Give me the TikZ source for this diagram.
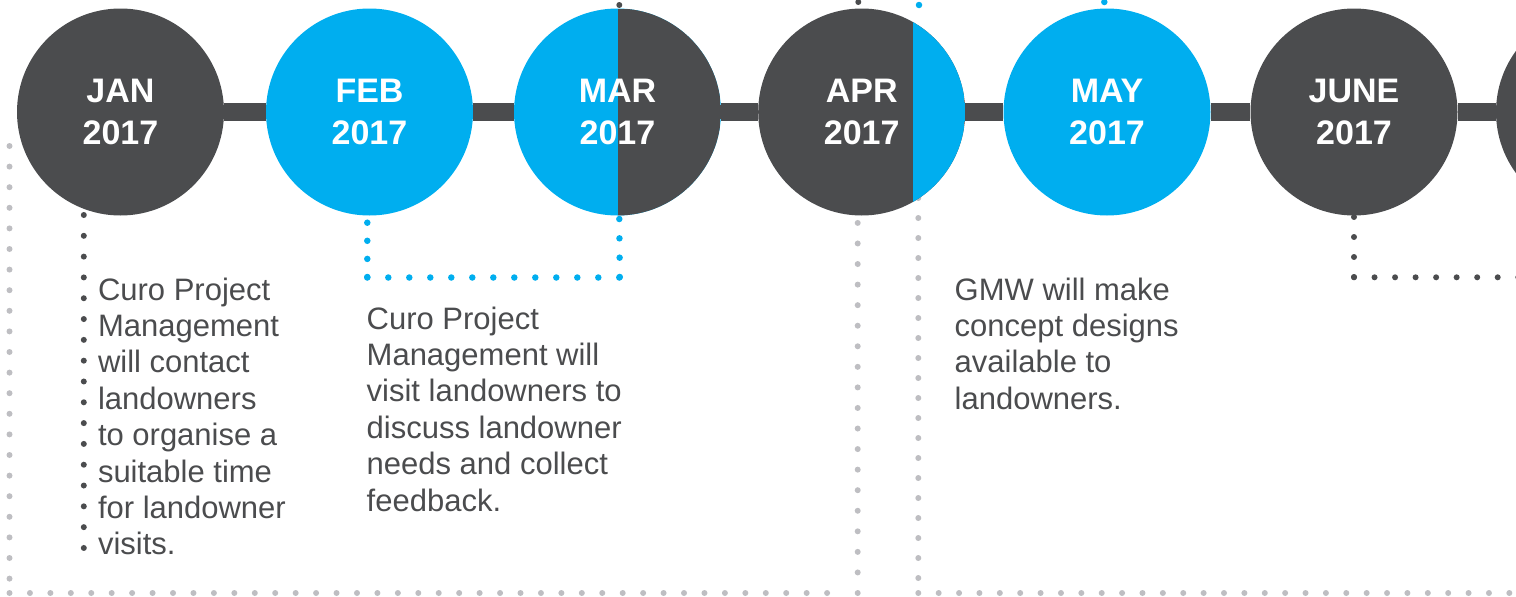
\documentclass[tikz,border=0pt]{standalone}
\usepackage{fontspec}
\setmainfont{Liberation Sans}
\definecolor{dark}{HTML}{4B4C4E}
\definecolor{cyanb}{HTML}{00AEEF}
\definecolor{lgray}{HTML}{BEBEC2}
\tikzset{
  month/.style={circle, minimum size=207pt, inner sep=0pt, text=white, align=center,
    font=\fontsize{34}{42.7}\selectfont\bfseries},
  darkm/.style={month, fill=dark},
  bluem/.style={month, fill=cyanb},
  dotrow/.style={line width=6pt, line cap=round, dash pattern=on 0pt off #1},
  body/.style={anchor=base west, inner sep=0pt, align=left, text=dark,
    font=\fontsize{31}{36.4}\selectfont},
  bar/.style={line width=18pt, dark}
}
\begin{document}
\begin{tikzpicture}[x=1pt,y=-1pt]
\useasboundingbox (0,0) rectangle (1516,597);
\clip (0,0) rectangle (1516,597);
% grey dotted frames
\coordinate (g1a) at (9.5,146);
\coordinate (g1b) at (9.5,580);
\coordinate (g1c) at (9.5,593);
\coordinate (g1d) at (828.5,593);
\coordinate (g1e) at (857.7,593);
\coordinate (g1f) at (857.7,222);
\draw[lgray, dotrow=20.6] (g1a) -- (g1b);
\draw[lgray, dotrow=20.44] (g1c) -- (g1d);
\draw[lgray, dotrow=20.56] (g1e) -- (g1f);
\coordinate (g2a) at (918.3,198);
\coordinate (g2b) at (918.3,580);
\coordinate (g2c) at (918.3,593);
\coordinate (g2d) at (1530,593);
\draw[lgray, dotrow=20] (g2a) -- (g2b);
\draw[lgray, dotrow=20.38] (g2c) -- (g2d);
% month circles
\node[darkm] (jan) at (120.5,112) {JAN\\2017};
\node[bluem] (feb) at (369.5,112) {FEB\\2017};
\node[bluem, path picture={\fill[dark] ([xshift=0.8pt]path picture bounding box.north) rectangle (path picture bounding box.south east);}] (mar) at (617.5,112) {MAR\\2017};
\node[darkm, path picture={\fill[cyanb] ([xshift=51.6pt]path picture bounding box.north) rectangle (path picture bounding box.south east);}] (apr) at (861.7,112) {APR\\2017};
\node[bluem] (may) at (1107,112) {MAY\\2017};
\node[darkm] (jun) at (1354,112) {JUNE\\2017};
\node[darkm] (jul) at (1599.5,112) {};
% bars
\draw[bar] (jan.east) -- (feb.west);
\draw[bar] (feb.east) -- (mar.west);
\draw[bar] (mar.east) -- (apr.west);
\draw[bar] (apr.east) -- (may.west);
\draw[bar] (may.east) -- (jun.west);
\draw[bar] (jun.east) -- (jul.west);
% dark dotted leaders
\coordinate (d1a) at (83.8,215);
\coordinate (d1b) at (83.8,549);
\draw[dark, dotrow=20.81] (d1a) -- (d1b);
\coordinate (d2a) at (1354,217);
\coordinate (d2b) at (1354,277.3);
\coordinate (d2c) at (1530,277.3);
\draw[dark, dotrow=20] (d2a) -- (d2b);
\draw[dark, dotrow=20.53] (d2b) -- (d2c);
% blue dotted leaders
\coordinate (b1a) at (367.3,222.7);
\coordinate (b1b) at (367.3,277.5);
\coordinate (b1c) at (619.8,277.5);
\coordinate (b1d) at (619.3,219);
\draw[cyanb, dotrow=18.1, line width=6.5pt] (b1a) -- (b1b);
\draw[cyanb, dotrow=21, line width=6.5pt] (b1b) -- (b1c);
\draw[cyanb, dotrow=19.33, line width=6.5pt] (b1d) -- (b1c);
% leaders continuing above the picture
\coordinate (u1) at (619.3,5);
\coordinate (u2) at (858.3,2);
\coordinate (u3) at (919,5);
\coordinate (u4) at (1104.3,2);
\draw[dark, dotrow=20] (u1) -- ++(0,-30);
\draw[dark, dotrow=20] (u2) -- ++(0,-30);
\draw[cyanb, dotrow=20, line width=6.5pt] (u3) -- ++(0,-30);
\draw[cyanb, dotrow=20, line width=6.5pt] (u4) -- ++(0,-30);
% texts (anchored at the baseline of their last line)
\node[body] (t1) at (97.8,554.8) {Curo Project\\Management\\will contact\\landowners\\to organise a\\suitable time\\for landowner\\visits.};
\node[body] (t2) at (366.5,511) {Curo Project\\Management will\\visit landowners to\\discuss landowner\\needs and collect\\feedback.};
\node[body] (t3) at (954.5,409.2) {GMW will make\\concept designs\\available to\\landowners.};
\end{tikzpicture}
\end{document}
